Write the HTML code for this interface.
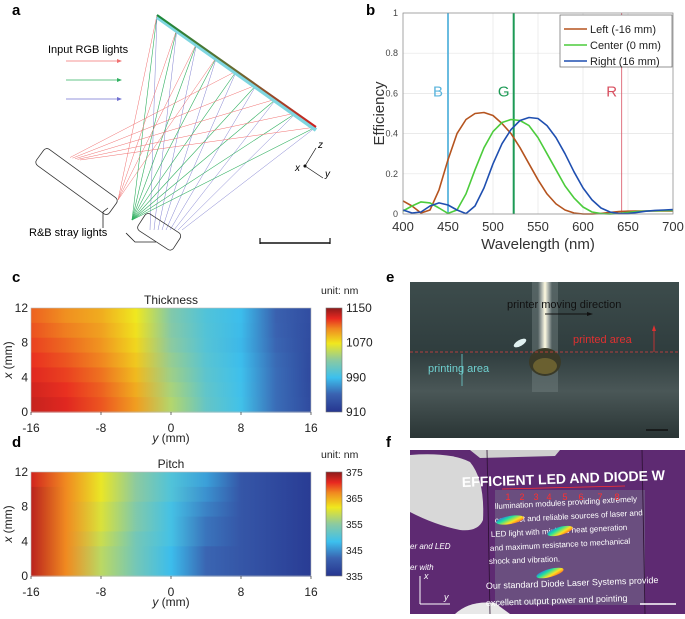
<!DOCTYPE html>
<html><head><meta charset="utf-8">
<style>
html,body{margin:0;padding:0;background:#fff;}
body{width:685px;height:614px;overflow:hidden;font-family:"Liberation Sans",Arial,sans-serif;}
svg text{font-family:"Liberation Sans",Arial,sans-serif;}
</style></head>
<body>
<svg id="fig" width="685" height="614" viewBox="0 0 685 614" xmlns="http://www.w3.org/2000/svg">
<defs>
  <linearGradient id="grat" x1="0" y1="0" x2="1" y2="0">
    <stop offset="0" stop-color="#1a8a3a"/><stop offset="0.5" stop-color="#6a6a30"/><stop offset="1" stop-color="#d02020"/>
  </linearGradient>
  <linearGradient id="ebg" x1="0" y1="0" x2="0" y2="1">
    <stop offset="0" stop-color="#3d4c4c"/><stop offset="0.45" stop-color="#2f3d3e"/><stop offset="0.7" stop-color="#4a5757"/><stop offset="1" stop-color="#2a3535"/>
  </linearGradient>
  <linearGradient id="streak" x1="0" y1="0" x2="1" y2="0">
    <stop offset="0" stop-color="#fff" stop-opacity="0"/><stop offset="0.5" stop-color="#fffbe0" stop-opacity="1"/><stop offset="1" stop-color="#fff" stop-opacity="0"/>
  </linearGradient>
  <linearGradient id="rainbow" x1="0" y1="0" x2="1" y2="1">
    <stop offset="0" stop-color="#3050ff"/><stop offset="0.35" stop-color="#20e0a0"/><stop offset="0.65" stop-color="#ffe020"/><stop offset="1" stop-color="#ff3020"/>
  </linearGradient>
  <clipPath id="fclip"><rect x="410" y="450" width="275" height="164"/></clipPath>
</defs>

<text x="12" y="15" font-size="15" font-weight="bold">a</text>
<text x="366" y="15" font-size="15" font-weight="bold">b</text>
<text x="12" y="282" font-size="15" font-weight="bold">c</text>
<text x="12" y="447" font-size="15" font-weight="bold">d</text>
<text x="386" y="282" font-size="15" font-weight="bold">e</text>
<text x="386" y="447" font-size="15" font-weight="bold">f</text>

<g id="pa">
  <g id="rays"></g>
  <line x1="157" y1="17" x2="316" y2="130" stroke="#7fd6e0" stroke-width="4"/>
  <line x1="157" y1="15" x2="316" y2="127" stroke="url(#grat)" stroke-width="2"/>
  <text x="48" y="53" font-size="11">Input RGB lights</text>
  <line x1="66" y1="61" x2="120" y2="61" stroke="#f07070" stroke-width="0.8"/>
  <polygon points="122,61 117,59 117,63" fill="#f07070"/>
  <line x1="66" y1="80" x2="120" y2="80" stroke="#30b060" stroke-width="0.8"/>
  <polygon points="122,80 117,78 117,82" fill="#30b060"/>
  <line x1="66" y1="99" x2="120" y2="99" stroke="#7070d0" stroke-width="0.8"/>
  <polygon points="122,99 117,97 117,101" fill="#7070d0"/>
  <rect x="0" y="0" width="90" height="20" rx="4" fill="none" stroke="#333" stroke-width="0.8" transform="translate(46,147) rotate(36)"/>
  <rect x="0" y="0" width="42" height="20" rx="4" fill="none" stroke="#333" stroke-width="0.8" transform="translate(147,212) rotate(33)"/>
  <polyline points="108,208 103,212 103,228" fill="none" stroke="#222" stroke-width="0.8"/>
  <polyline points="126,233 135,242 156,242" fill="none" stroke="#222" stroke-width="0.8"/>
  <text x="29" y="236" font-size="11">R&amp;B stray lights</text>
  <line x1="260" y1="243" x2="330" y2="243" stroke="#111" stroke-width="1.5"/>
  <line x1="260" y1="238" x2="260" y2="244" stroke="#111" stroke-width="1.2"/>
  <line x1="330" y1="238" x2="330" y2="244" stroke="#111" stroke-width="1.2"/>
  <g stroke="#111" stroke-width="0.7" fill="#111">
    <line x1="305" y1="166" x2="316" y2="148"/><line x1="305" y1="166" x2="323" y2="178"/>
    <circle cx="305" cy="166" r="1.2"/>
  </g>
  <text x="318" y="148" font-size="10" font-style="italic" font-family="Liberation Serif">z</text>
  <text x="295" y="171" font-size="10" font-style="italic" font-family="Liberation Serif">x</text>
  <text x="325" y="177" font-size="10" font-style="italic" font-family="Liberation Serif">y</text>
</g>

<g id="pb"></g>
<g id="pc"></g>
<g id="pd"></g>

<g>
  <rect x="410" y="282" width="269" height="156" fill="url(#ebg)"/>
  <rect x="532" y="282" width="26" height="110" fill="#6e7c7b" opacity="0.5"/>
  <rect x="538" y="282" width="14" height="75" fill="url(#streak)"/>
  <ellipse cx="545" cy="362" rx="16" ry="14" fill="#3a3a28"/>
  <ellipse cx="545" cy="366" rx="12" ry="8" fill="#6a6030"/>
  <ellipse cx="520" cy="343" rx="7" ry="3" fill="#e0f0f0" transform="rotate(-30 520 343)"/>
  <line x1="410" y1="352" x2="679" y2="352" stroke="#e04040" stroke-width="0.8" stroke-dasharray="3,2"/>
  <text x="507" y="308" font-size="11" fill="#111">printer moving direction</text>
  <line x1="545" y1="314" x2="590" y2="314" stroke="#111" stroke-width="1"/>
  <polygon points="593,314 587,312 587,316" fill="#111"/>
  <text x="573" y="343" font-size="11" fill="#e03030">printed area</text>
  <line x1="654" y1="352" x2="654" y2="328" stroke="#e03030" stroke-width="0.8"/>
  <polygon points="654,325 652,331 656,331" fill="#e03030"/>
  <text x="428" y="372" font-size="11" fill="#6fd0d0">printing area</text>
  <line x1="462" y1="354" x2="462" y2="386" stroke="#6fd0d0" stroke-width="0.8"/>
  <line x1="646" y1="430" x2="668" y2="430" stroke="#111" stroke-width="1.5"/>
</g>

<g clip-path="url(#fclip)">
  <rect x="410" y="450" width="275" height="164" fill="#5e2a72"/>
  <rect x="495" y="490" width="150" height="115" fill="#7a7a90" opacity="0.45"/>
  <path d="M410,455 Q450,452 470,462 Q485,480 483,520 Q478,532 460,530 Q435,525 410,512 Z" fill="#d8d8d8"/>
  <path d="M470,450 L560,450 L555,456 L480,458 Z" fill="#cfcfcf"/>
  <path d="M455,614 Q470,600 495,603 L510,614 Z" fill="#e8e8e8"/>
  <line x1="487" y1="450" x2="490" y2="614" stroke="#2a1030" stroke-width="0.8"/>
  <line x1="642" y1="450" x2="645" y2="614" stroke="#2a1030" stroke-width="0.8"/>
  <text x="462" y="487" font-size="14" font-weight="bold" fill="#fff" transform="rotate(-2 462 487)">EFFICIENT LED AND DIODE W</text>
  <text x="495" y="509" font-size="8" fill="#fff" transform="rotate(-3 495 509)">llumination modules providing extremely</text>
  <text x="495" y="523" font-size="8" fill="#fff" transform="rotate(-3 495 523)">compact and reliable sources of laser and</text>
  <text x="491" y="537" font-size="8" fill="#fff" transform="rotate(-3 491 537)">LED light with minimal heat generation</text>
  <text x="490" y="551" font-size="8" fill="#fff" transform="rotate(-3 490 551)">and maximum resistance to mechanical</text>
  <text x="489" y="564" font-size="8" fill="#fff" transform="rotate(-2 489 564)">shock and vibration.</text>
  <text x="486" y="589" font-size="9" fill="#fff" transform="rotate(-2 486 589)">Our standard Diode Laser Systems provide</text>
  <text x="486" y="606" font-size="9" fill="#fff" transform="rotate(-2 486 606)">excellent output power and pointing</text>
  <text x="410" y="549" font-size="8" fill="#fff" font-style="italic">er and LED</text>
  <text x="410" y="570" font-size="8" fill="#fff" font-style="italic">er with</text>
  <ellipse cx="510" cy="520" rx="14" ry="4" fill="url(#rainbow)" transform="rotate(-10 510 520)"/>
  <ellipse cx="560" cy="531" rx="13" ry="4" fill="url(#rainbow)" transform="rotate(-15 560 531)"/>
  <ellipse cx="550" cy="573" rx="14" ry="4" fill="url(#rainbow)" transform="rotate(-15 550 573)"/>
  <g id="fnums"></g>
  <line x1="420" y1="604" x2="420" y2="576" stroke="#fff" stroke-width="1"/>
  <line x1="420" y1="604" x2="450" y2="604" stroke="#fff" stroke-width="1"/>
  <text x="424" y="579" font-size="9" fill="#fff" font-style="italic" font-family="Liberation Serif">x</text>
  <text x="444" y="600" font-size="9" fill="#fff" font-style="italic" font-family="Liberation Serif">y</text>
  <line x1="640" y1="604" x2="676" y2="604" stroke="#fff" stroke-width="1.5"/>
</g>
</svg>
<script>
// ---------- Panel b data ----------
const wavelengths = [400,410,420,430,440,450,460,470,480,490,500,510,520,530,540,550,560,570,580,590,600,610,620,630,640,650,660,670,680,690,700];
const effLeft   = [0.065,0.04,0.005,0.02,0.12,0.27,0.40,0.47,0.50,0.505,0.49,0.45,0.40,0.33,0.25,0.17,0.10,0.05,0.02,0.005,0.0,0.0,0.003,0.008,0.012,0.014,0.015,0.015,0.015,0.015,0.015];
const effCenter = [0.015,0.04,0.06,0.055,0.03,0.003,0.02,0.10,0.22,0.33,0.41,0.455,0.47,0.465,0.44,0.38,0.30,0.22,0.14,0.08,0.035,0.01,0.002,0.0,0.003,0.008,0.012,0.015,0.016,0.017,0.018];
const effRight  = [0.02,0.005,0.01,0.04,0.055,0.045,0.02,0.002,0.04,0.13,0.25,0.35,0.42,0.465,0.48,0.475,0.44,0.38,0.30,0.21,0.13,0.07,0.03,0.01,0.002,0.002,0.008,0.014,0.018,0.02,0.022];
const seriesNames = ["Left (-16 mm)","Center (0 mm)","Right (16 mm)"];
const xTicksB = [400,450,500,550,600,650,700];
const yTicksB = [0,0.2,0.4,0.6,0.8,1];
const laserLines = [450,523,643];
const laserLabels = ["B","G","R"];

// ---------- Panel c/d data ----------
const mapY = [-16,-12,-8,-4,0,4,8,12,16];
const mapX = [12,10,8,6,4,2,0];
const thickness = [
  [1112,1100,1090,1068,1025,1000,988,950,932],
  [1116,1105,1094,1071,1027,1001,987,951,931],
  [1120,1110,1098,1075,1030,1002,986,952,930],
  [1124,1115,1103,1080,1034,1004,988,954,929],
  [1128,1120,1108,1085,1037,1006,990,955,928],
  [1132,1124,1112,1090,1041,1008,991,955,929],
  [1135,1128,1115,1095,1045,1010,992,955,930]
];
const pitch = [
  [372,367,361,355,350,346,340,338,336],
  [373,367,361,355,350,345,340,338,336],
  [373,367,360,354,349,344,340,338,336],
  [373,367,360,354,349,343,340,338,336],
  [373,367,359,353,349,343,340,338,336],
  [373,367,358,353,348,342,340,338,336],
  [373,367,358,353,348,342,340,338,336]
];
const thickTicks = [910,990,1070,1150];
const pitchTicks = [335,345,355,365,375];
const mapXTicks = [-16,-8,0,8,16];
const mapYTicks = [0,4,8,12];

const NS="http://www.w3.org/2000/svg";
function mk(tag, attrs, parent){const e=document.createElementNS(NS,tag);for(const k in attrs)e.setAttribute(k,attrs[k]);if(parent)parent.appendChild(e);return e;}

(function(){
  const g=document.getElementById('rays');
  const n=9;
  for(let i=0;i<n;i++){
    const t=i/(n-1), gx=157+159*t, gy=15+112*t;
    let l=mk('line',{x1:gx,y1:gy,x2:132,y2:220,stroke:'#30b060','stroke-width':0.6},g);
    
    l=mk('line',{x1:gx,y1:gy,x2:150+i*4,y2:230,stroke:'#8080d0','stroke-width':0.5},g);
    
    l=mk('line',{x1:gx,y1:gy,x2:t<0.5?118:60+t*20,y2:t<0.5?200:155+t*5,stroke:'#f07070','stroke-width':0.5},g);
    
  }
})();

(function(){
  const g=document.getElementById('pb');
  const L=403,R=673,T=13,B=214;
  const sx=v=>L+(v-400)/300*(R-L), sy=v=>B-v*(B-T);
  xTicksB.forEach(v=>{
    const l=mk('line',{x1:sx(v),y1:T,x2:sx(v),y2:B,stroke:'#e4e4e4','stroke-width':0.7},g);
    
    const t=mk('text',{x:sx(v),y:B+17,'font-size':13,'text-anchor':'middle',fill:'#333'},g);t.textContent=v;
    
  });
  yTicksB.forEach(v=>{
    const l=mk('line',{x1:L,y1:sy(v),x2:R,y2:sy(v),stroke:'#e4e4e4','stroke-width':0.7},g);
    
    const t=mk('text',{x:L-5,y:sy(v)+3,'font-size':9,'text-anchor':'end',fill:'#444'},g);t.textContent=v;
    
  });
  const lc=['#5ab4dc','#1d9a55','#d85060'], lw=[1.8,2,0.8];
  laserLines.forEach((v,i)=>{
    const l=mk('line',{x1:sx(v),y1:T,x2:sx(v),y2:B,stroke:lc[i],'stroke-width':lw[i]},g);
    
    const t=mk('text',{x:sx(v)-10,y:sy(0.6)+3,'font-size':15,'text-anchor':'middle',fill:lc[i]},g);t.textContent=laserLabels[i];
    
  });
  const cols=['#b5541f','#4ccc3c','#1f4fb0'];
  [effLeft,effCenter,effRight].forEach((s,k)=>{
    const d=s.map((v,i)=>(i?'L':'M')+sx(wavelengths[i]).toFixed(1)+','+sy(v).toFixed(1)).join(' ');
    const p=mk('path',{d:d,fill:'none',stroke:cols[k],'stroke-width':1.6,'stroke-linejoin':'round'},g);
    
  });
  mk('rect',{x:L,y:T,width:R-L,height:B-T,fill:'none',stroke:'#888','stroke-width':0.7},g);
  const lg=mk('g',{},g);
  mk('rect',{x:560,y:15,width:112,height:52,fill:'#fff',stroke:'#666','stroke-width':0.7},lg);
  seriesNames.forEach((n,i)=>{
    const y=29+i*16;
    const l=mk('line',{x1:564,y1:y,x2:587,y2:y,stroke:cols[i],'stroke-width':1.6},lg);
    
    const t=mk('text',{x:590,y:y+4,'font-size':11,fill:'#222'},lg);t.textContent=n;
    
  });
  let t=mk('text',{x:(L+R)/2,y:249,'font-size':15,'text-anchor':'middle',fill:'#333'},g);t.textContent='Wavelength (nm)';
  
  t=mk('text',{x:0,y:0,'font-size':15,'text-anchor':'middle',fill:'#333',transform:'translate(384,'+((T+B)/2)+') rotate(-90)'},g);t.textContent='Efficiency';
  
})();

// colormap (as seen in the figure)
const cmapStops=[[0,[38,53,143]],[0.17,[58,98,176]],[0.33,[60,192,238]],[0.5,[140,202,160]],[0.66,[240,232,30]],[0.8,[240,138,32]],[0.9,[232,40,32]],[1,[140,26,26]]];
function cmap(v){
  v=Math.max(0,Math.min(1,v));
  for(let i=1;i<cmapStops.length;i++){
    if(v<=cmapStops[i][0]){
      const a=cmapStops[i-1],b=cmapStops[i],f=(v-a[0])/(b[0]-a[0]);
      return 'rgb('+[0,1,2].map(k=>Math.round(a[1][k]+(b[1][k]-a[1][k])*f)).join(',')+')';
    }
  }
  return 'rgb(140,26,26)';
}

function drawMap(gid, data, ticks, top, title){
  const g=document.getElementById(gid);
  const L=31,R=311,T=top,B=top+104;
  const vmin=ticks[0], vmax=ticks[ticks.length-1];
  const sx=v=>L+(v+16)/32*(R-L), sy=v=>B-v/12*(B-T);
  const bandH=(B-T)/mapX.length;
  data.forEach((row,ri)=>{
    const id=gid+'-grad-'+ri;
    const lg=mk('linearGradient',{id:id,x1:0,y1:0,x2:1,y2:0},document.querySelector('defs'));
    row.forEach((v,ci)=>{mk('stop',{offset:((mapY[ci]+16)/32).toFixed(3),'stop-color':cmap((v-vmin)/(vmax-vmin))},lg);});
    const r=mk('rect',{x:L,y:T+ri*bandH,width:R-L,height:bandH+0.6,fill:'url(#'+id+')'},g);
    
  });
  mk('rect',{x:L,y:T,width:R-L,height:B-T,fill:'none',stroke:'#bbb','stroke-width':0.6},g);
  mapXTicks.forEach(v=>{
    mk('line',{x1:sx(v),y1:B,x2:sx(v),y2:B+3,stroke:'#333','stroke-width':0.7},g);
    const t=mk('text',{x:sx(v),y:B+20,'font-size':12,'text-anchor':'middle',fill:'#222'},g);t.textContent=v;
    
  });
  mapYTicks.forEach(v=>{
    const t=mk('text',{x:L-3,y:sy(v)+4,'font-size':12,'text-anchor':'end',fill:'#222'},g);t.textContent=v;
    
  });
  let t=mk('text',{x:171,y:B+30,'font-size':12,'text-anchor':'middle',fill:'#222'},g);
  t.innerHTML='<tspan font-style="italic">y</tspan> (mm)';
  
  t=mk('text',{x:0,y:0,'font-size':12,'text-anchor':'middle',fill:'#222',transform:'translate(12,'+((T+B)/2)+') rotate(-90)'},g);
  t.innerHTML='<tspan font-style="italic">x</tspan> (mm)';
  
  t=mk('text',{x:171,y:T-4,'font-size':12,'text-anchor':'middle',fill:'#222'},g);t.textContent=title;
  
  const cid=gid+'-cbar';
  const cg=mk('linearGradient',{id:cid,x1:0,y1:1,x2:0,y2:0},document.querySelector('defs'));
  cmapStops.forEach(s=>mk('stop',{offset:s[0],'stop-color':'rgb('+s[1].join(',')+')'},cg));
  const cb=mk('rect',{x:326,y:T,width:16,height:B-T,fill:'url(#'+cid+')',stroke:'#777','stroke-width':0.6},g);
  
  ticks.forEach(v=>{
    const y=B-(v-vmin)/(vmax-vmin)*(B-T);
    const tt=mk('text',{x:346,y:y+4,'font-size':ticks.length>4?10:12,fill:'#222'},g);tt.textContent=v;
    
  });
  t=mk('text',{x:321,y:T-14,'font-size':10.5,fill:'#222'},g);t.textContent='unit: nm';
  
}
drawMap('pc', thickness, thickTicks, 308, 'Thickness');
drawMap('pd', pitch, pitchTicks, 472, 'Pitch');

(function(){
  const g=document.getElementById('fnums');
  const nums=[1,2,3,4,5,6,7,8];
  const xs=[508,522,536,549,565,581,600,617];
  nums.forEach((n,i)=>{
    const t=mk('text',{x:xs[i],y:500,'font-size':9,fill:'#ff3030','text-anchor':'middle'},g);t.textContent=n;
    
  });
  mk('line',{x1:502,y1:489,x2:625,y2:486,stroke:'#ff3030','stroke-width':0.8},g);
})();
</script>
</body></html>
